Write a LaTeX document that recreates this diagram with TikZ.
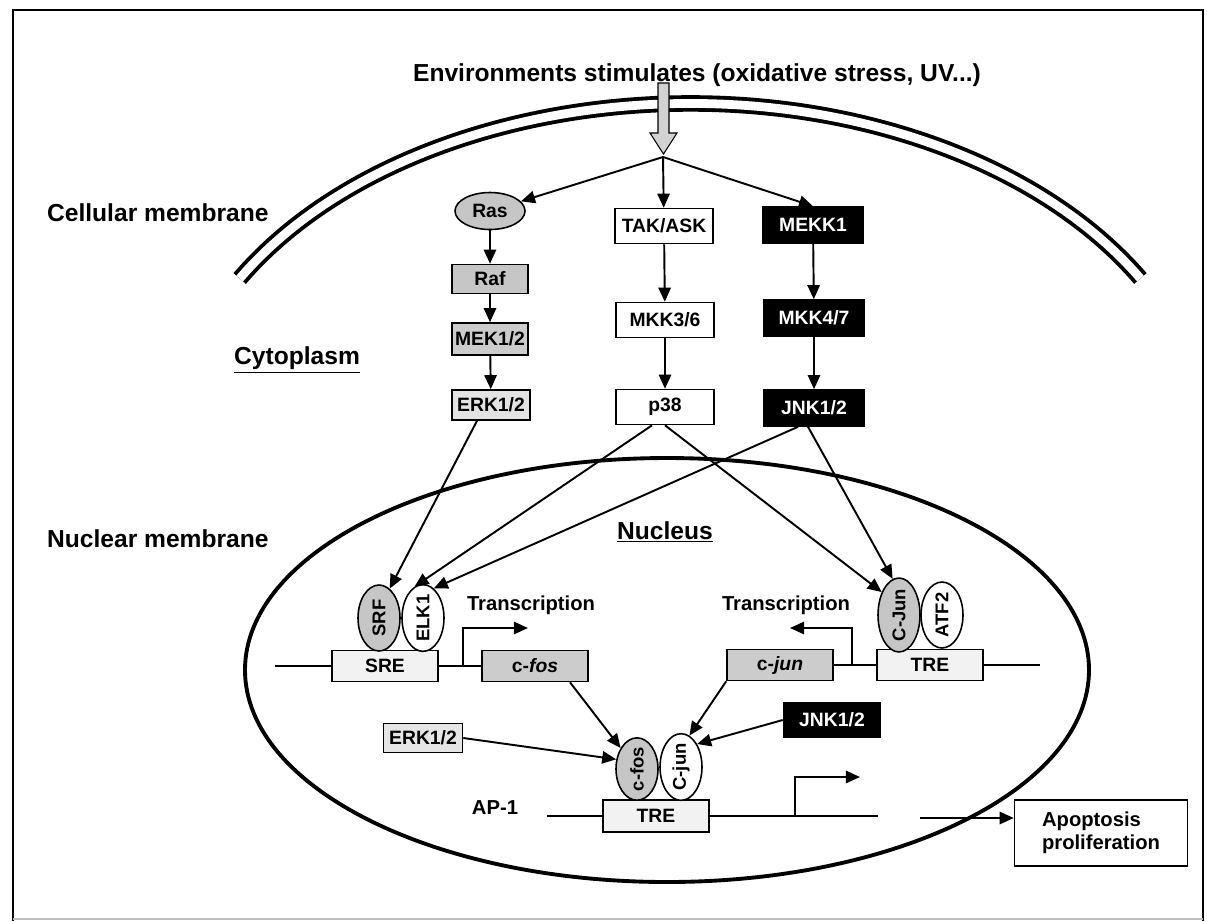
\documentclass[tikz,border=0pt]{standalone}
\usepackage{fontspec}
\setmainfont{Liberation Sans}
\usetikzlibrary{arrows.meta,shapes.geometric}

\tikzset{
    region/.style={font=\bfseries\fontsize{14}{16}\selectfont,inner sep=1pt},
    caption/.style={font=\bfseries\fontsize{11.5}{13}\selectfont,inner sep=1pt},
    kinase/.style={draw,line width=0.9pt,inner sep=1pt,font=\bfseries\fontsize{11}{12}\selectfont},
    whitekin/.style={kinase,fill=white,minimum width=1.96cm,minimum height=0.7cm},
    blackkin/.style={kinase,fill=black,text=white,minimum width=2cm,minimum height=0.72cm},
    greykin/.style={kinase,fill=gray!45,minimum width=1.52cm,minimum height=0.58cm},
    element/.style={kinase,minimum width=2.12cm,minimum height=0.62cm},
    factor/.style={draw,ellipse,line width=0.9pt,inner sep=0pt,minimum width=0.84cm,minimum height=1.32cm,font=\bfseries\fontsize{10.5}{11}\selectfont},
    sig/.style={-{Triangle[length=8pt,width=7pt]},line width=1.1pt},
    dna/.style={line width=1.1pt}
}

\begin{document}
\begin{tikzpicture}[x=0.02cm,y=-0.02cm]
    \useasboundingbox (0,0) rectangle (1207,921);

    %frame
    \draw[line width=1.5pt] (13,921) -- (13,10) -- (1203,10) -- (1203,921);
    \draw[gray!50,line width=0.6pt] (13,919) -- (1203,919);

    %membranes
    \draw[line width=2.2pt,double,double distance=5pt] (239.7,278.5) arc[start angle=210,end angle=330,x radius=520,y radius=350];
    \draw[line width=2.2pt] (667,670) ellipse[x radius=422,y radius=212];

    %labels
    \node[region] (stimuli) at (697,75) {Environments stimulates (oxidative stress, UV...)};
    \node[region,anchor=west] (cellmem) at (45,213) {Cellular membrane};
    \node[region] (cyto) at (297,360) {\underline{Cytoplasm}};
    \node[region,anchor=west] (nucmem) at (45,539) {Nuclear membrane};
    \node[region] (nucleus) at (665,532) {\underline{Nucleus}};

    %stimulus
    \filldraw[fill=gray!35,line width=0.6pt] (658,83) -- (669,83) -- (669,133) -- (677,133) -- (663.5,154) -- (650,133) -- (658,133) -- cycle;
    \coordinate (split) at (663,157);

    %cascades
    \node[draw,ellipse,fill=gray!45,line width=0.9pt,inner sep=0pt,minimum width=1.4cm,minimum height=0.74cm,font=\bfseries\fontsize{11}{12}\selectfont] (ras) at (490,211) {Ras};
    \node[greykin] (raf) at (490,279) {Raf};
    \node[greykin,fill=gray!40,minimum height=0.64cm] (mek) at (490,339) {MEK1/2};
    \node[greykin,fill=gray!22,minimum width=1.56cm,minimum height=0.6cm] (erk) at (491,405) {ERK1/2};

    \node[whitekin] (tak) at (664,226) {TAK/ASK};
    \node[whitekin] (mkk36) at (665,320) {MKK3/6};
    \node[whitekin] (p38) at (665,407) {p38};

    \node[blackkin] (mekk1) at (813,225) {MEKK1};
    \node[blackkin] (mkk47) at (814,318) {MKK4/7};
    \node[blackkin] (jnk) at (814,408) {JNK1/2};

    \draw[sig] (split) -- (ras);
    \draw[sig] (split) -- (tak);
    \draw[sig] (split) -- (mekk1.north);
    \draw[sig] (ras) -- (raf);
    \draw[sig] (raf) -- (mek);
    \draw[sig] (mek) -- (erk);
    \draw[sig] (tak) -- (mkk36);
    \draw[sig] (mkk36) -- (p38);
    \draw[sig] (mekk1) -- (mkk47);
    \draw[sig] (mkk47) -- (jnk);

    %promoters
    \node[element,fill=gray!10] (sre) at (385,666) {SRE};
    \node[element,fill=gray!40] (cfosbox) at (535,666) {c-\textit{fos}};
    \node[element,fill=gray!40] (cjunbox) at (780,665) {c-\textit{jun}};
    \node[element,fill=gray!10] (tre) at (930,665) {TRE};
    \node[factor,fill=gray!45] (srf) at (379,618) {\rotatebox{90}{SRF}};
    \node[factor,fill=white] (elk) at (423,618) {\rotatebox{90}{ELK1}};
    \node[factor,fill=gray!45] (cjunf) at (899,615) {\rotatebox{90}{C-Jun}};
    \node[factor,fill=white] (atf) at (942,615) {\rotatebox{90}{ATF2}};
    \node[caption] (trans1) at (531,605) {Transcription};
    \node[caption] (trans2) at (786,605) {Transcription};

    \coordinate (dna1) at (275,666);
    \coordinate (dna2) at (1040,665);
    \draw[dna] (dna1) -- (sre.west);
    \draw[dna] (sre.east) -- (cfosbox.west);
    \draw[dna] (cjunbox.east) -- (tre.west);
    \draw[dna] (tre.east) -- (dna2);
    \coordinate (tss1) at (463,666);
    \coordinate (tss2) at (852,665);
    \draw[sig] (tss1) |- ++(65,-38);
    \draw[sig] (tss2) |- ++(-62,-37);

    \draw[sig] ([xshift=-0.28cm]erk.south) -- (srf.70);
    \draw[sig] ([xshift=-0.26cm]p38.south) -- (elk.105);
    \draw[sig] ([xshift=-0.32cm]jnk.south) -- (elk.70);
    \draw[sig] (p38.south) -- (cjunf.127);
    \draw[sig] ([xshift=-0.12cm]jnk.south) -- (cjunf.100);

    %AP-1
    \node[greykin,fill=gray!20,minimum width=1.58cm] (erk2) at (423,738) {ERK1/2};
    \node[blackkin,minimum width=1.94cm,minimum height=0.7cm] (jnk2) at (832,720) {JNK1/2};
    \node[element,fill=gray!10,minimum height=0.64cm] (tre2) at (656,816) {TRE};
    \node[factor,fill=gray!45,minimum height=1.2cm] (cfos) at (637,769) {\rotatebox{90}{c-fos}};
    \node[factor,fill=white,minimum height=1.28cm] (cjun) at (681,767) {\rotatebox{90}{C-jun}};
    \node[caption] (ap1) at (495,808) {AP-1};
    \node[draw,line width=0.9pt,minimum width=3.46cm,minimum height=1.32cm,align=left,font=\bfseries\fontsize{11.5}{13}\selectfont] (apop) at (1101,833) {Apoptosis\\proliferation};

    \coordinate (dna3) at (547,816);
    \coordinate (dna4) at (878,816);
    \coordinate (tss3) at (795,816);
    \coordinate (out) at (920,818);
    \draw[dna] (dna3) -- (tre2.west);
    \draw[dna] (tre2.east) -- (dna4);
    \draw[sig] (tss3) |- ++(65,-39);
    \draw[sig] (out) -- (out -| apop.west);

    \draw[sig] ([xshift=0.7cm]cfosbox.south) -- (cfos.128);
    \draw[sig] (erk2.east) -- (cfos.155);
    \draw[sig] (cjunbox.south west) -- (cjun.75);
    \draw[sig] (jnk2.west) -- (cjun.55);
\end{tikzpicture}
\end{document}
